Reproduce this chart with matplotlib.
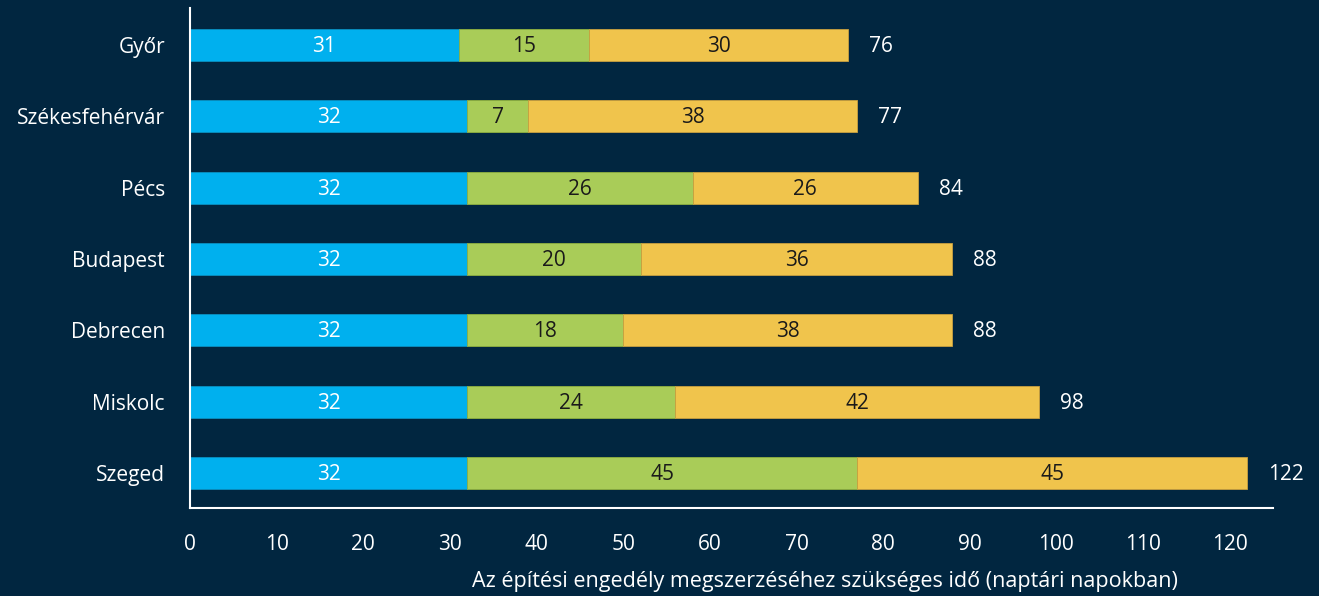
import matplotlib
matplotlib.use("Agg")
import matplotlib.pyplot as plt
import numpy as np

cities = ["Győr", "Székesfehérvár", "Pécs", "Budapest", "Debrecen", "Miskolc", "Szeged"]
blue_vals = [31, 32, 32, 32, 32, 32, 32]
green_vals = [15, 7, 26, 20, 18, 24, 45]
yellow_vals = [30, 38, 26, 36, 38, 42, 45]
totals = [76, 77, 84, 88, 88, 98, 122]
xticks = [0, 10, 20, 30, 40, 50, 60, 70, 80, 90, 100, 110, 120]
xlabel = "Az építési engedély megszerzéséhez szükséges idő (naptári napokban)"

BG = "#012640"
C_BLUE = "#00B0EE"
C_GREEN = "#A9CC58"
C_YELLOW = "#F0C44C"

plt.rcParams['font.family'] = ['Open Sans', 'DejaVu Sans']

fig = plt.figure(figsize=(13.19, 5.96), dpi=100, facecolor=BG)
ax = fig.add_axes([190/1319, 1-508/596, (1273-190)/1319, 500/596], facecolor=BG)

n = len(cities)
y = np.arange(n)[::-1]
h = 0.45
b = np.array(blue_vals)
g = np.array(green_vals)
yl = np.array(yellow_vals)

ax.barh(y, b, height=h, color=C_BLUE, edgecolor="#0a90c0", linewidth=0.6)
ax.barh(y, g, left=b, height=h, color=C_GREEN, edgecolor="#8fb040", linewidth=0.6)
ax.barh(y, yl, left=b + g, height=h, color=C_YELLOW, edgecolor="#c9a040", linewidth=0.6)

fs = 15
for i in range(n):
    ax.text(b[i] / 2, y[i] - 0.02, str(b[i]), ha="center", va="center", color="white", fontsize=fs)
    ax.text(b[i] + g[i] / 2, y[i] - 0.02, str(g[i]), ha="center", va="center", color="#1a1a1a", fontsize=fs)
    ax.text(b[i] + g[i] + yl[i] / 2, y[i] - 0.02, str(yl[i]), ha="center", va="center", color="#1a1a1a", fontsize=fs)
    ax.annotate(str(totals[i]), xy=(totals[i], y[i] - 0.02), xytext=(15, 0), textcoords="offset points",
                ha="left", va="center", color="white", fontsize=fs)

ax.set_xlim(0, 125)
ax.set_ylim(-0.49, n - 1 + 0.52)
ax.set_yticks(y)
ax.set_yticklabels(cities)
ax.set_xticks(xticks)
ax.tick_params(axis="both", length=0, colors="white", labelsize=fs)
ax.tick_params(axis="y", pad=18)
ax.tick_params(axis="x", pad=19)

for s in ["top", "right"]:
    ax.spines[s].set_visible(False)
for s in ["left", "bottom"]:
    ax.spines[s].set_color("white")
    ax.spines[s].set_linewidth(1.5)

ax.set_xlabel(xlabel, color="white", fontsize=15.5, ha="right", va="center")
ax.xaxis.set_label_coords((1178-190)/1083, -73/500)

fig.savefig("out.png", dpi=100, facecolor=BG)
